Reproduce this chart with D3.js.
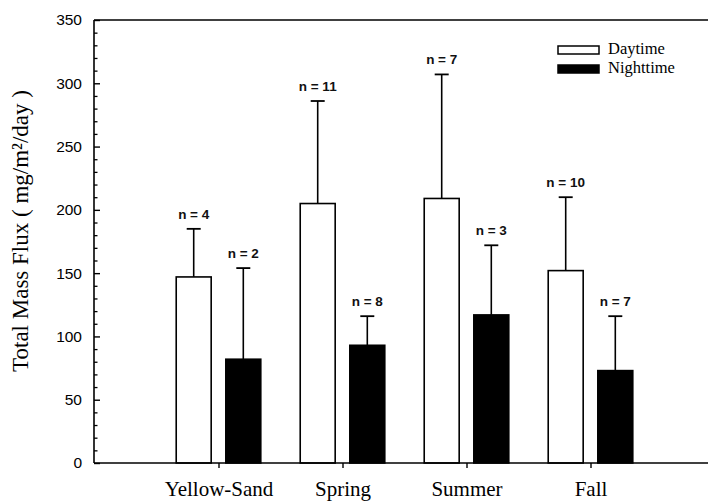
<!DOCTYPE html>
<html>
<head>
<meta charset="utf-8">
<script src="https://cdn.jsdelivr.net/npm/d3@7"></script>
<style>
  html, body { margin: 0; padding: 0; background: #fff; }
  svg { display: block; }
</style>
</head>
<body>
<svg id="chart" width="708" height="503"></svg>
<script>
const categories = ["Yellow-Sand", "Spring", "Summer", "Fall"];
const dayMean = [147, 205, 209, 152];
const daySD = [38, 81, 98, 58];
const dayN = [4, 11, 7, 10];
const nightMean = [82, 93, 117, 73];
const nightSD = [72, 23, 55, 43];
const nightN = [2, 8, 3, 7];
const seriesNames = ["Daytime", "Nighttime"];
const yMajorTicks = [0, 50, 100, 150, 200, 250, 300, 350];

const svg = d3.select("#chart");
const plotLeft = 94, plotTop = 20, plotBottom = 463, plotRight = 708;

const x = d3.scaleLinear().domain([0, 5]).range([94.5, 714.5]);
const y = d3.scaleLinear().domain([0, 350]).range([plotBottom, plotTop]);

const barW = x(0.282) - x(0);
const off = x(0.2) - x(0);

const series = [
  { name: seriesNames[0], mean: dayMean, sd: daySD, n: dayN, fill: "#fff", shift: -off },
  { name: seriesNames[1], mean: nightMean, sd: nightSD, n: nightN, fill: "#000", shift: off }
];

// Error bars (drawn behind bars)
series.forEach(s => {
  const g = svg.append("g");
  categories.forEach((c, i) => {
    const cx = x(i + 1) + s.shift;
    g.append("line")
      .attr("x1", cx).attr("x2", cx)
      .attr("y1", y(s.mean[i])).attr("y2", y(s.mean[i] + s.sd[i]))
      .attr("stroke", "#000").attr("stroke-width", 1.6);
    g.append("line")
      .attr("x1", cx - 7).attr("x2", cx + 7)
      .attr("y1", y(s.mean[i] + s.sd[i])).attr("y2", y(s.mean[i] + s.sd[i]))
      .attr("stroke", "#000").attr("stroke-width", 1.8);
    g.append("text")
      .attr("x", cx).attr("y", y(s.mean[i] + s.sd[i]) - 10)
      .attr("text-anchor", "middle")
      .attr("font-family", "Liberation Sans, Arial, sans-serif")
      .attr("font-size", 13.5)
      .attr("font-weight", "bold")
      .attr("fill", "#111")
      .text("n = " + s.n[i]);
  });
});

// Bars
series.forEach(s => {
  svg.append("g").selectAll("rect")
    .data(categories)
    .join("rect")
    .attr("x", (c, i) => x(i + 1) + s.shift - barW / 2)
    .attr("width", barW)
    .attr("y", (c, i) => y(s.mean[i]))
    .attr("height", (c, i) => y(0) - y(s.mean[i]))
    .attr("fill", s.fill)
    .attr("stroke", "#000")
    .attr("stroke-width", 1.6);
});

// Y axis: minor ticks
const yMinor = d3.range(0, 351, 10).filter(v => v % 50 !== 0);
svg.append("g")
  .attr("transform", `translate(${plotLeft},0)`)
  .call(d3.axisRight(y).tickValues(yMinor).tickSize(3.5).tickFormat(""))
  .call(g => g.select(".domain").remove())
  .call(g => g.selectAll("line").attr("stroke", "#000").attr("stroke-width", 1.3));

// Y axis: major ticks (inward) + labels
svg.append("g")
  .attr("transform", `translate(${plotLeft},0)`)
  .call(d3.axisRight(y).tickValues(yMajorTicks).tickSize(6).tickFormat(""))
  .call(g => g.select(".domain").remove())
  .call(g => g.selectAll("line").attr("stroke", "#000").attr("stroke-width", 1.4));

svg.append("g")
  .attr("transform", `translate(${plotLeft},0)`)
  .call(d3.axisLeft(y).tickValues(yMajorTicks).tickSize(0).tickPadding(12).tickFormat(d3.format("d")))
  .call(g => g.select(".domain").remove())
  .call(g => g.selectAll("text")
    .attr("font-family", "Liberation Sans, Arial, sans-serif")
    .attr("font-size", 15.5)
    .attr("fill", "#000"));

// Axis frame lines
svg.append("line").attr("x1", plotLeft).attr("x2", plotLeft).attr("y1", plotTop).attr("y2", plotBottom)
  .attr("stroke", "#000").attr("stroke-width", 1.6);
svg.append("line").attr("x1", plotLeft).attr("x2", plotRight).attr("y1", plotTop).attr("y2", plotTop)
  .attr("stroke", "#000").attr("stroke-width", 1.6);

// X axis
svg.append("g")
  .attr("transform", `translate(0,${plotBottom})`)
  .call(d3.axisBottom(x).tickValues([1, 2, 3, 4]).tickSize(5).tickPadding(13)
    .tickFormat(d => categories[d - 1]))
  .call(g => g.select(".domain").attr("d", `M${plotLeft},0H${plotRight}`).attr("stroke", "#000").attr("stroke-width", 1.6))
  .call(g => g.selectAll("line").attr("stroke", "#000").attr("stroke-width", 1.4))
  .call(g => g.selectAll("text")
    .attr("font-family", "Liberation Serif, Times New Roman, serif")
    .attr("font-size", 21)
    .attr("fill", "#000"));

// Y axis title
svg.append("text")
  .attr("transform", "translate(28,231) rotate(-90)")
  .attr("text-anchor", "middle")
  .attr("font-family", "Liberation Serif, Times New Roman, serif")
  .attr("font-size", 23)
  .attr("fill", "#000")
  .text("Total Mass Flux ( mg/m²/day )");

// Legend
const legend = svg.append("g");
series.forEach((s, i) => {
  const ly = 46 + i * 19;
  legend.append("rect")
    .attr("x", 558).attr("y", ly).attr("width", 41).attr("height", 8)
    .attr("fill", s.fill).attr("stroke", "#000").attr("stroke-width", 1.5);
  legend.append("text")
    .attr("x", 608).attr("y", ly + 8)
    .attr("font-family", "Liberation Serif, Times New Roman, serif")
    .attr("font-size", 16.5)
    .attr("fill", "#000")
    .text(s.name);
});
</script>
</body>
</html>
